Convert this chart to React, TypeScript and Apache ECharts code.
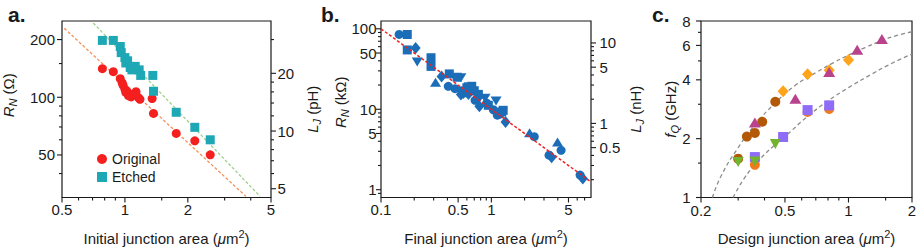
import { useEffect, useRef } from 'react';
import * as echarts from 'echarts';

const FONT = 'Liberation Sans';
const INK = '#1a1a1a';

// ---------- Panel a ----------
const aXRange = [0.5, 5];
const aYRange = [30, 250];
const aY2Range = [4.5, 37.5];
const aXMajor = [0.5, 1, 2, 5];
const aXLabels = ['0.5', '1', '2', '5'];
const aXMinor = [0.6, 0.7, 0.8, 0.9, 1.5, 3, 4];
const aYMajor = [50, 100, 200];
const aYLabels = ['50', '100', '200'];
const aYMinor = [40, 60, 70, 80, 90, 150];
const aY2Major = [5, 10, 20];
const aY2Labels = ['5', '10', '20'];
const aY2Minor = [6, 7, 8, 9, 12, 14, 16, 18, 30];
const aOriginal = [
  [0.78, 141], [0.88, 136], [0.95, 125], [0.97, 119], [0.98, 115.5], [1.0, 110], [1.01, 106],
  [1.02, 108], [1.04, 102], [1.06, 103], [1.07, 100.4], [1.11, 104], [1.13, 107], [1.16, 99.6],
  [1.18, 97.6], [1.35, 98.4], [1.37, 82.4], [1.76, 64.8], [2.16, 59.3], [2.56, 50.1],
];
const aEtched = [
  [0.78, 198], [0.88, 198], [0.95, 184], [0.96, 171], [1.0, 161], [1.01, 151], [1.03, 155],
  [1.06, 143], [1.08, 139], [1.12, 145], [1.17, 139], [1.19, 130], [1.36, 130], [1.37, 107.5],
  [1.76, 83.5], [2.16, 69.7], [2.56, 60],
];
const aFitOriginal = [[0.5126, 229], [3.793, 30.4]];
const aFitEtched = [[0.706, 244], [4.435, 30.4]];

// ---------- Panel b ----------
const bXRange = [0.1, 8];
const bYRange = [0.8, 125];
const bY2Range = [0.12, 18.75];
const bXMajor = [0.1, 0.5, 1, 5];
const bXLabels = ['0.1', '0.5', '1', '5'];
const bXMinor = [0.2, 0.3, 0.4, 0.6, 0.7, 0.8, 0.9, 2, 3, 4, 6, 7];
const bYMajor = [1, 5, 10, 50, 100];
const bYLabels = ['1', '5', '10', '50', '100'];
const bYMinor = [0.9, 2, 3, 4, 6, 7, 8, 9, 20, 30, 40, 60, 70, 80, 90];
const bY2Major = [0.5, 1, 5, 10];
const bY2Labels = ['0.5', '1', '5', '10'];
const bY2Minor = [0.2, 0.3, 0.4, 0.6, 0.7, 0.8, 0.9, 2, 3, 4, 6, 7, 8, 9];
const bCircle = [
  [0.146, 85], [0.407, 19.3], [0.469, 18], [0.539, 17], [0.58, 16], [0.712, 12.9], [0.75, 14],
  [0.908, 11.9], [1.043, 9.86], [1.133, 8.43], [1.2, 8.7], [2.45, 4.56], [3.335, 2.69],
  [4.285, 3.09], [6.37, 1.52],
];
const bSquare = [
  [0.173, 85], [0.173, 54.6], [0.284, 43.7], [0.284, 34.1], [0.416, 27.5], [0.49, 25],
  [0.6, 18.5], [0.619, 19], [0.664, 19.3], [0.7, 17], [0.763, 15.3], [0.939, 11.2],
  [1.242, 9.26], [1.28, 9.7],
];
const bDiamond = [
  [0.206, 57.8], [0.354, 25.6], [0.53, 15.3], [0.558, 15.9], [0.62, 15.5], [0.779, 10.9],
  [1.345, 6.96], [3.515, 2.54], [6.74, 1.38],
];
const bTriDown = [[0.213, 38.6], [0.53, 24.7], [0.877, 13.7], [1.103, 12.7]];
const bTriUp = [[0.312, 21.6], [2.22, 5.11], [3.98, 3.93]];
const bFit = [[0.1, 100], [8, 1.25]];

// ---------- Panel c ----------
const cXRange = [0.2, 2];
const cYRange = [1, 8];
const cXMajor = [0.2, 0.5, 1, 2];
const cXLabels = ['0.2', '0.5', '1', '2'];
const cXMinor = [0.3, 0.4, 0.6, 0.7, 0.8, 0.9, 1.5];
const cYMajor = [1, 2, 4, 6, 8];
const cYLabels = ['1', '2', '4', '6', '8'];
const cYMinor = [1.5, 3, 5, 7];
const cBrownCircle = [[0.3, 1.58], [0.33, 2.05], [0.36, 2.14], [0.39, 2.44], [0.45, 3.09]];
const cOrangeDiamond = [[0.49, 3.5], [0.64, 4.27], [0.81, 4.48], [1.0, 5.06]];
const cMagentaTri = [[0.36, 2.42], [0.56, 3.2], [0.81, 4.39], [1.1, 5.7], [1.44, 6.47]];
const cPurpleSquare = [[0.36, 1.61], [0.49, 2.04], [0.64, 2.8], [0.81, 2.96]];
const cGreenTriDown = [[0.3, 1.52], [0.36, 1.53], [0.45, 1.88]];
const cOrangeCircle = [[0.36, 1.47], [0.64, 2.74], [0.81, 2.84]];
const cCurveUpper = [
  [0.2266, 1.0], [0.25, 1.3], [0.3, 1.8], [0.36, 2.35], [0.45, 3.05], [0.56, 3.75], [0.7, 4.35],
  [0.85, 4.9], [1.0, 5.35], [1.2, 5.85], [1.44, 6.35], [1.7, 6.75], [2.0, 7.05],
];
const cCurveLower = [
  [0.284, 1.0], [0.32, 1.25], [0.37, 1.52], [0.45, 1.87], [0.5, 2.05], [0.64, 2.6], [0.8, 3.12],
  [1.0, 3.65], [1.3, 4.3], [1.6, 4.85], [2.0, 5.42],
];

const rich = {
  n: { fontSize: 15, fontFamily: FONT, color: INK },
  i: { fontSize: 15, fontFamily: FONT, color: INK, fontStyle: 'italic' },
  s: { fontSize: 11, fontFamily: FONT, color: INK, fontStyle: 'italic', padding: [8, 0, 0, 0] },
  u: { fontSize: 15, fontFamily: FONT, color: INK, fontStyle: 'italic' },
  p: { fontSize: 11, fontFamily: FONT, color: INK, padding: [0, 0, 8, 0] },
};

function logAxis(gridIndex: number, range: number[], extra: any = {}) {
  return {
    type: 'log',
    logBase: 10,
    gridIndex,
    min: range[0],
    max: range[1],
    axisLine: { show: false },
    axisTick: { show: false },
    axisLabel: { show: false },
    splitLine: { show: false },
    minorTick: { show: false },
    nameLocation: 'middle',
    nameTextStyle: { fontSize: 15, fontFamily: FONT, color: INK, rich },
    ...extra,
  };
}

function tickSeries(
  xi: number, yi: number, side: 'bottom' | 'left' | 'right',
  major: number[], minor: number[], labels: string[], anchor: number, labelGap = 7,
) {
  const data: number[][] = [];
  major.forEach((v, i) => data.push(side === 'bottom' ? [v, anchor, 1, i] : [anchor, v, 1, i]));
  minor.forEach((v) => data.push(side === 'bottom' ? [v, anchor, 0, -1] : [anchor, v, 0, -1]));
  return {
    type: 'custom',
    xAxisIndex: xi,
    yAxisIndex: yi,
    silent: true,
    clip: false,
    z: 5,
    data,
    renderItem: (_params: any, api: any) => {
      const p = api.coord([api.value(0), api.value(1)]);
      const isMajor = api.value(2) === 1;
      const len = isMajor ? 5 : 3;
      let x2 = p[0];
      let y2 = p[1];
      if (side === 'bottom') y2 = p[1] + len;
      else if (side === 'left') x2 = p[0] - len;
      else x2 = p[0] + len;
      const children: any[] = [
        { type: 'line', shape: { x1: p[0], y1: p[1], x2, y2 }, style: { stroke: INK, lineWidth: 1.1 } },
      ];
      if (isMajor) {
        const text = labels[api.value(3)];
        const base = { text, fill: INK, fontSize: 15, fontFamily: FONT };
        if (side === 'bottom') {
          children.push({ type: 'text', x: p[0], y: p[1] + labelGap, style: { ...base, align: 'center', verticalAlign: 'middle' } });
        } else if (side === 'left') {
          children.push({ type: 'text', x: p[0] - labelGap, y: p[1], style: { ...base, align: 'right', verticalAlign: 'middle' } });
        } else {
          children.push({ type: 'text', x: p[0] + labelGap, y: p[1], style: { ...base, align: 'left', verticalAlign: 'middle' } });
        }
      }
      return { type: 'group', children };
    },
  };
}

function scatter(name: string | undefined, xi: number, yi: number, data: number[][], symbol: string, size: any, color: string, rotate = 0) {
  return {
    type: 'scatter',
    name,
    xAxisIndex: xi,
    yAxisIndex: yi,
    data,
    symbol,
    symbolSize: size,
    symbolRotate: rotate,
    itemStyle: { color, opacity: 1 },
    z: 3,
  };
}

function line(xi: number, yi: number, data: number[][], color: string, dash: number[], width: number, smooth = false, z = 2) {
  return {
    type: 'line',
    xAxisIndex: xi,
    yAxisIndex: yi,
    data,
    showSymbol: false,
    symbol: 'none',
    smooth,
    clip: true,
    z,
    lineStyle: { color, width, type: dash },
  };
}

const RED = '#f41f1f';
const TEAL = '#1ea7b5';
const BLUE = '#1c6db8';

export default function App() {
  const ref = useRef<HTMLDivElement>(null);
  useEffect(() => {
    if (!ref.current) return;
    const chart = echarts.init(ref.current, undefined, { renderer: 'svg' });
    const gridBase = { top: 21, height: 176.5, show: true, borderColor: INK, borderWidth: 1.2, backgroundColor: 'transparent' };
    const option: any = {
      animation: false,
      textStyle: { fontFamily: FONT },
      grid: [
        { ...gridBase, left: 61, width: 210 },
        { ...gridBase, left: 381, width: 210 },
        { ...gridBase, left: 701, width: 211 },
      ],
      xAxis: [
        logAxis(0, aXRange, { name: '{n|Initial junction area (}{u|μ}{n|m}{p|2}{n|)}', nameGap: 31 }),
        logAxis(1, bXRange, { name: '{n|Final junction area (}{u|μ}{n|m}{p|2}{n|)}', nameGap: 31 }),
        logAxis(2, cXRange, { name: '{n|Design junction area (}{u|μ}{n|m}{p|2}{n|)}', nameGap: 31 }),
      ],
      yAxis: [
        logAxis(0, aYRange, {
          name: '{i|R}{s|N}{n| (Ω)}', nameRotate: 90, nameGap: 44,
          nameTextStyle: { fontSize: 15, fontFamily: FONT, color: INK, rich, padding: [0, 0, 0, 28] },
        }),
        logAxis(0, aY2Range, { position: 'right', name: '{i|L}{s|J}{n| (pH)}', nameRotate: 90, nameGap: 32 }),
        logAxis(1, bYRange, {
          name: '{i|R}{s|N}{n| (kΩ)}', nameRotate: 90, nameGap: 31,
          nameTextStyle: { fontSize: 15, fontFamily: FONT, color: INK, rich, padding: [0, 0, 0, 14] },
        }),
        logAxis(1, bY2Range, { position: 'right', name: '{i|L}{s|J}{n| (nH)}', nameRotate: 90, nameGap: 35 }),
        logAxis(2, cYRange, { name: '{i|f}{s|Q}{n| (GHz)}', nameRotate: 90, nameGap: 21 }),
      ],
      legend: {
        data: ['Original', 'Etched'],
        orient: 'vertical',
        left: 92,
        top: 147,
        itemWidth: 10,
        itemHeight: 10,
        itemGap: 4,
        selectedMode: false,
        textStyle: { fontSize: 14, fontFamily: FONT, color: INK },
      },
      graphic: [
        { type: 'text', left: 8, top: 4, style: { text: 'a.', font: 'bold 21px Liberation Sans', fill: INK } },
        { type: 'text', left: 321, top: 4, style: { text: 'b.', font: 'bold 21px Liberation Sans', fill: INK } },
        { type: 'text', left: 652, top: 4, style: { text: 'c.', font: 'bold 21px Liberation Sans', fill: INK } },
      ],
      series: [
        // panel a
        line(0, 0, aFitOriginal, '#f7905a', [3, 2], 1.3),
        line(0, 0, aFitEtched, '#9ed08a', [3, 2], 1.3),
        scatter('Original', 0, 0, aOriginal, 'circle', 9, RED),
        scatter('Etched', 0, 0, aEtched, 'rect', 9, TEAL),
        tickSeries(0, 0, 'bottom', aXMajor, aXMinor, aXLabels, aYRange[0], 12),
        tickSeries(0, 0, 'left', aYMajor, aYMinor, aYLabels, aXRange[0], 7),
        tickSeries(0, 1, 'right', aY2Major, aY2Minor, aY2Labels, aXRange[1], 6.5),
        // panel b
        scatter(undefined, 1, 2, bCircle, 'circle', 9, BLUE),
        scatter(undefined, 1, 2, bSquare, 'rect', 9, BLUE),
        scatter(undefined, 1, 2, bDiamond, 'diamond', [10, 12], BLUE),
        scatter(undefined, 1, 2, bTriDown, 'triangle', [11, 9], BLUE, 180),
        scatter(undefined, 1, 2, bTriUp, 'triangle', [11, 9], BLUE),
        line(1, 2, bFit, '#ee2222', [3, 2], 1.5, false, 4),
        tickSeries(1, 2, 'bottom', bXMajor, bXMinor, bXLabels, bYRange[0], 12),
        tickSeries(1, 2, 'left', bYMajor, bYMinor, bYLabels, bXRange[0], 4.5),
        tickSeries(1, 3, 'right', bY2Major, bY2Minor, bY2Labels, bXRange[1], 8.5),
        // panel c
        line(2, 4, cCurveUpper, '#8c8c8c', [4, 3], 1.3, true),
        line(2, 4, cCurveLower, '#8c8c8c', [4, 3], 1.3, true),
        scatter(undefined, 2, 4, cOrangeCircle, 'circle', 10, '#f27a1d'),
        scatter(undefined, 2, 4, cBrownCircle, 'circle', 10, '#b35806'),
        scatter(undefined, 2, 4, cPurpleSquare, 'rect', 10, '#8e6cf7'),
        scatter(undefined, 2, 4, cGreenTriDown, 'triangle', [11, 10], '#74b32c', 180),
        scatter(undefined, 2, 4, cOrangeDiamond, 'diamond', [11, 12], '#ffa31a'),
        scatter(undefined, 2, 4, cMagentaTri, 'triangle', [12, 10], '#b8428c'),
        tickSeries(2, 4, 'bottom', cXMajor, cXMinor, cXLabels, cYRange[0], 12.5),
        tickSeries(2, 4, 'left', cYMajor, cYMinor, cYLabels, cXRange[0], 10.5),
      ],
    };
    chart.setOption(option);
    return () => chart.dispose();
  }, []);
  return <div ref={ref} style={{ position: 'absolute', left: 0, top: 0, width: 924, height: 251 }} />;
}
